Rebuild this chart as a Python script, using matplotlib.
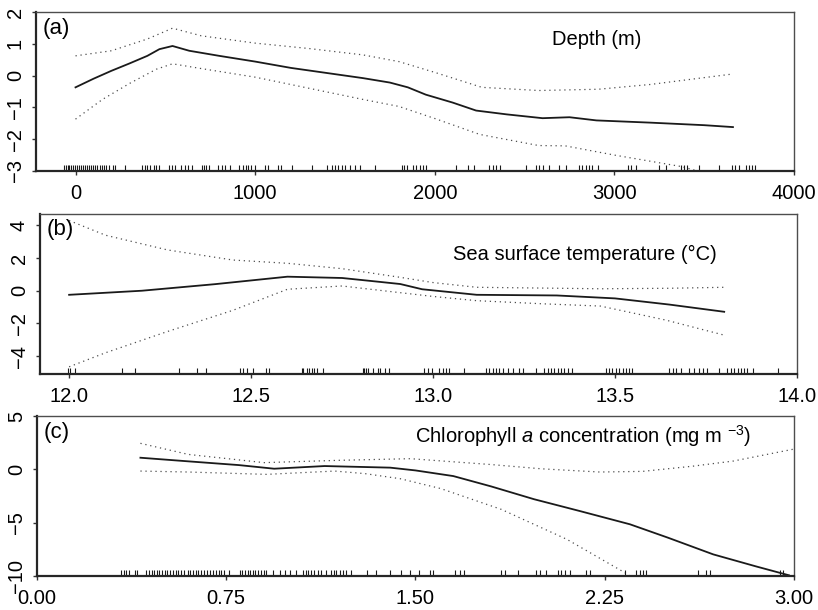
import numpy as np
import matplotlib
matplotlib.use('Agg')
from matplotlib import pyplot as plt
from matplotlib.ticker import FormatStrFormatter

plt.rcParams['font.family'] = ['Liberation Sans', 'DejaVu Sans']
plt.rcParams['mathtext.fontset'] = 'custom'
plt.rcParams['mathtext.rm'] = 'Liberation Sans'
plt.rcParams['mathtext.it'] = 'Liberation Sans:italic'

#%% panel (a) depth
depth_x = [0, 100, 200, 300, 400, 467, 540, 633, 800, 1000, 1200, 1400, 1600, 1750,
           1850, 1950, 2100, 2230, 2400, 2600, 2750, 2900, 3200, 3500, 3660]
depth_fit = [-0.37, -0.1, 0.15, 0.38, 0.62, 0.83, 0.93, 0.78, 0.62, 0.44, 0.24, 0.08,
             -0.08, -0.22, -0.37, -0.6, -0.85, -1.10, -1.22, -1.34, -1.31, -1.41,
             -1.48, -1.56, -1.62]
depth_up_x = [0, 200, 400, 540, 700, 1000, 1300, 1600, 1800, 2000, 2262, 2578, 2911,
              3200, 3450, 3660]
depth_up = [0.62, 0.78, 1.15, 1.49, 1.25, 1.02, 0.85, 0.65, 0.44, 0.1, -0.37, -0.47,
            -0.43, -0.28, -0.1, 0.05]
depth_lo_x = [0, 150, 300, 450, 540, 700, 1000, 1300, 1600, 1800, 2000, 2250, 2578,
              2726, 3000, 3372, 3660]
depth_lo = [-1.37, -0.75, -0.25, 0.2, 0.37, 0.22, -0.05, -0.4, -0.75, -0.97, -1.35,
            -1.85, -2.2, -2.21, -2.5, -2.86, -3.3]
depth_rug = [-65, -55, -44, -35, -26, -15, -4, 8, 19, 30, 41, 52, 63, 74, 85, 97, 108,
             121, 134, 148, 160, 171, 185, 208, 222, 278, 371, 389, 400, 417, 435, 448,
             467, 519, 537, 556, 585, 608, 626, 648, 704, 715, 726, 741, 793, 815, 834,
             861, 911, 930, 948, 963, 978, 1000, 1056, 1074, 1130, 1145, 1204, 1315,
             1398, 1426, 1445, 1463, 1482, 1500, 1528, 1556, 1584, 1667, 1815, 1830,
             1848, 1880, 1896, 1915, 1934, 1952, 2119, 2184, 2221, 2304, 2322, 2341,
             2363, 2508, 2563, 2582, 2600, 2637, 2693, 2730, 2804, 2822, 2841, 2859,
             2878, 2906, 3073, 3091, 3119, 3248, 3285, 3369, 3387, 3406, 3471, 3582,
             3656, 3674, 3693, 3730, 3748, 3767, 3785]

#%% panel (b) sea surface temperature
sst_x = [12.0, 12.2, 12.4, 12.6, 12.75, 12.85, 12.91, 12.97, 13.12, 13.34, 13.5, 13.65, 13.8]
sst_fit = [-0.25, 0.0, 0.4, 0.86, 0.78, 0.55, 0.41, 0.09, -0.25, -0.29, -0.47, -0.85, -1.29]
sst_up_x = [12.0, 12.1, 12.27, 12.45, 12.6, 12.75, 12.91, 13.0, 13.12, 13.46, 13.65, 13.8]
sst_up = [4.3, 3.4, 2.5, 1.88, 1.68, 1.35, 0.82, 0.5, 0.21, 0.12, 0.15, 0.21]
sst_lo_x = [12.0, 12.1, 12.27, 12.45, 12.6, 12.75, 12.91, 13.0, 13.12, 13.3, 13.46, 13.64, 13.8]
sst_lo = [-4.66, -3.8, -2.5, -1.2, 0.09, 0.29, -0.12, -0.35, -0.61, -0.8, -0.94, -1.8, -2.72]
sst_rug = [11.998, 12.003, 12.015, 12.145, 12.181, 12.303, 12.351, 12.375, 12.470,
           12.479, 12.490, 12.504, 12.541, 12.549, 12.639, 12.644, 12.653, 12.660,
           12.667, 12.673, 12.680, 12.697, 12.807, 12.810, 12.816, 12.822, 12.836,
           12.850, 12.854, 12.868, 12.880, 12.976, 12.985, 12.997, 13.017, 13.026,
           13.035, 13.043, 13.086, 13.145, 13.154, 13.164, 13.173, 13.182, 13.191,
           13.205, 13.219, 13.237, 13.248, 13.283, 13.306, 13.315, 13.324, 13.333,
           13.342, 13.351, 13.361, 13.370, 13.383, 13.475, 13.484, 13.493, 13.502,
           13.512, 13.521, 13.530, 13.539, 13.548, 13.649, 13.658, 13.667, 13.681,
           13.704, 13.718, 13.731, 13.741, 13.754, 13.786, 13.809, 13.818, 13.828,
           13.837, 13.846, 13.855, 13.864, 13.880, 13.947]

#%% panel (c) chlorophyll a
chl_x = [0.41, 0.6, 0.8, 0.94, 1.14, 1.4, 1.5, 1.65, 1.8, 1.97, 2.15, 2.35, 2.5, 2.68, 2.85, 2.98]
chl_fit = [1.09, 0.75, 0.4, 0.06, 0.31, 0.16, -0.1, -0.63, -1.6, -2.8, -3.9, -5.15,
           -6.4, -7.97, -9.1, -9.93]
chl_up_x = [0.41, 0.6, 0.9, 1.2, 1.48, 1.8, 2.0, 2.23, 2.4, 2.6, 2.76, 3.0]
chl_up = [2.44, 1.4, 0.63, 0.85, 1.0, 0.45, 0.05, -0.25, -0.19, 0.3, 0.78, 1.9]
chl_lo_x = [0.41, 0.6, 0.91, 1.18, 1.3, 1.44, 1.6, 1.84, 2.1, 2.33, 2.45]
chl_lo = [-0.16, -0.25, -0.47, -0.16, -0.4, -0.88, -1.8, -3.75, -6.56, -9.69, -11.5]
chl_rug = [0.333, 0.343, 0.353, 0.366, 0.390, 0.397, 0.433, 0.443, 0.454, 0.464, 0.475,
           0.485, 0.496, 0.507, 0.517, 0.528, 0.538, 0.549, 0.560, 0.570, 0.581, 0.598,
           0.608, 0.619, 0.630, 0.640, 0.651, 0.661, 0.673, 0.684, 0.697, 0.710, 0.721,
           0.730, 0.743, 0.763, 0.803, 0.813, 0.824, 0.835, 0.845, 0.856, 0.866, 0.877,
           0.888, 0.898, 0.909, 0.935, 0.962, 0.981, 1.001, 1.028, 1.054, 1.065, 1.075,
           1.086, 1.097, 1.114, 1.127, 1.147, 1.167, 1.176, 1.187, 1.200, 1.213, 1.226,
           1.246, 1.306, 1.345, 1.398, 1.444, 1.478, 1.516, 1.556, 1.569, 1.655, 1.675,
           1.694, 1.840, 1.853, 1.906, 1.979, 1.992, 2.018, 2.065, 2.078, 2.091, 2.111,
           2.177, 2.190, 2.329, 2.376, 2.389, 2.402, 2.415, 2.620, 2.653, 2.667, 2.944,
           2.958]

panels = [
    dict(x=depth_x, fit=depth_fit, ux=depth_up_x, up=depth_up, lx=depth_lo_x, lo=depth_lo,
         rug=depth_rug, xlim=(-220, 4000), ylim=(-3, 2), xticks=[0, 1000, 2000, 3000, 4000],
         yticks=[-3, -2, -1, 0, 1, 2], fmt='%d', tag='(a)', tag_y=0.893,
         label='Depth (m)', lab_xy=(0.740, 0.824),
         rect=[0.044, 0.7197, 0.9267, 0.2607]),
    dict(x=sst_x, fit=sst_fit, ux=sst_up_x, up=sst_up, lx=sst_lo_x, lo=sst_lo,
         rug=sst_rug, xlim=(11.92, 14.0), ylim=(-5.1, 4.7), xticks=[12.0, 12.5, 13.0, 13.5, 14.0],
         yticks=[-4, -2, 0, 2, 4], fmt='%.1f', tag='(b)', tag_y=0.90,
         label='Sea surface temperature (\u00b0C)', lab_xy=(0.72, 0.744),
         rect=[0.0489, 0.3869, 0.9254, 0.2623]),
    dict(x=chl_x, fit=chl_fit, ux=chl_up_x, up=chl_up, lx=chl_lo_x, lo=chl_lo,
         rug=chl_rug, xlim=(0, 3.0), ylim=(-10, 5), xticks=[0.0, 0.75, 1.5, 2.25, 3.0],
         yticks=[-10, -5, 0, 5], fmt='%.2f', tag='(c)', tag_y=0.894,
         label=r'Chlorophyll $\it{a}$ concentration (mg m $^{-3}$)', lab_xy=(0.721, 0.875),
         rect=[0.0452, 0.0557, 0.9254, 0.2623]),
]

fig = plt.figure(figsize=(8.18, 6.10), dpi=100)

for p in panels:
    ax = fig.add_axes(p['rect'])
    ax.plot(p['x'], p['fit'], color='0.1', lw=1.3)
    ax.plot(p['ux'], p['up'], color='0.3', lw=0.9, linestyle=(0, (1, 3)))
    ax.plot(p['lx'], p['lo'], color='0.3', lw=0.9, linestyle=(0, (1, 3)))
    # rug along the bottom
    ax.vlines(p['rug'], 0, 0.035, transform=ax.get_xaxis_transform(), color='0.1', lw=0.8)
    ax.set_xlim(p['xlim'])
    ax.set_ylim(p['ylim'])
    ax.set_xticks(p['xticks'])
    ax.set_yticks(p['yticks'])
    ax.xaxis.set_major_formatter(FormatStrFormatter(p['fmt']))
    ax.tick_params(axis='both', direction='out', length=3, width=1, labelsize=14.5, color='0.2')
    ax.tick_params(axis='x', pad=6.5)
    ax.tick_params(axis='y', pad=5)
    for lbl in ax.get_yticklabels():
        lbl.set_rotation(90)
        lbl.set_va('center')
    for side in ['left', 'bottom']:
        ax.spines[side].set_linewidth(1.6)
        ax.spines[side].set_color('0.15')
    for side in ['top', 'right']:
        ax.spines[side].set_linewidth(1.0)
        ax.spines[side].set_color('0.3')
    ax.text(0.009, p['tag_y'], p['tag'], transform=ax.transAxes, fontsize=16,
            ha='left', va='center')
    ax.text(p['lab_xy'][0], p['lab_xy'][1], p['label'], transform=ax.transAxes,
            fontsize=14.5, ha='center', va='center')

fig.savefig('out.png', dpi=100)
